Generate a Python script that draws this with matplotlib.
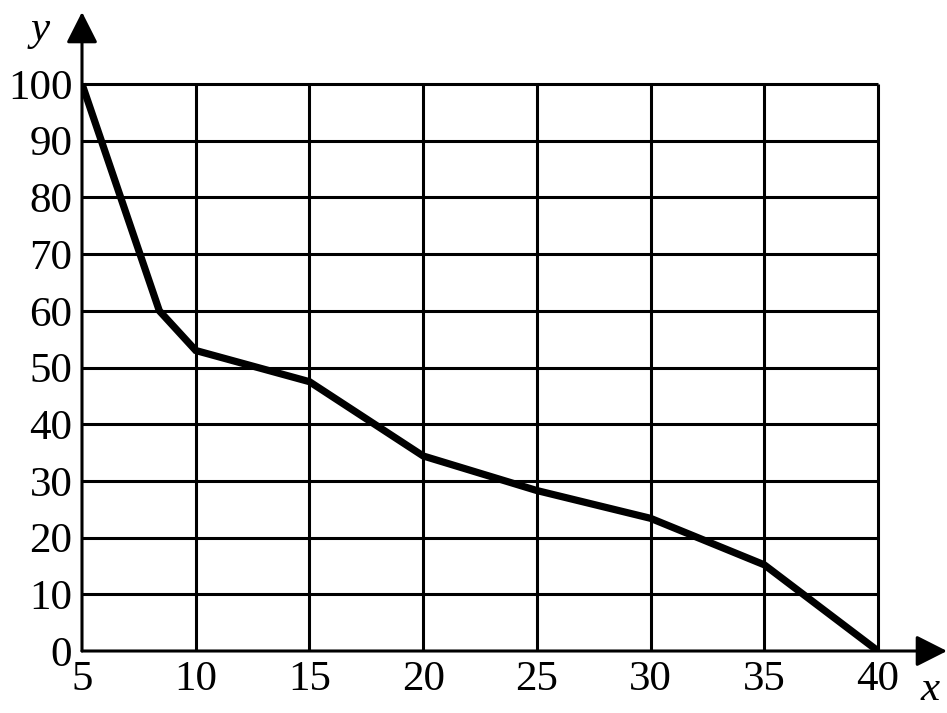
import matplotlib
matplotlib.use("Agg")
import matplotlib.pyplot as plt

x_values = [5, 8.4, 10, 15, 20, 25, 30, 35, 40]
y_values = [100, 60, 53, 47.5, 34.4, 28.3, 23.4, 15.2, 0]
x_ticks = [5, 10, 15, 20, 25, 30, 35, 40]
y_ticks = [0, 10, 20, 30, 40, 50, 60, 70, 80, 90, 100]

W, H = 947, 713
fig = plt.figure(figsize=(W / 100, H / 100), dpi=100)
px_per_x = (878 - 82) / 35.0
px_per_y = (651 - 84) / 100.0
left_px, bottom_px = 82, 651
right_px, top_px = 947, 12
ax = fig.add_axes([left_px / W, (H - bottom_px) / H,
                   (right_px - left_px) / W, (bottom_px - top_px) / H])
x_max = 5 + (right_px - left_px) / px_per_x
y_max = (bottom_px - top_px) / px_per_y
ax.set_xlim(5, x_max)
ax.set_ylim(0, y_max)
ax.set_facecolor("none")
for s in ax.spines.values():
    s.set_visible(False)

grid_lw = 2.2
ax.vlines(x_ticks[1:], 0, 100, color="black", lw=grid_lw, zorder=1)
ax.hlines(y_ticks[1:], 5, 40, color="black", lw=grid_lw, zorder=1)

# axes with arrows
ax.annotate("", xy=(5, y_max), xytext=(5, 0),
            arrowprops=dict(arrowstyle="-|>,head_length=0.95,head_width=0.48",
                            mutation_scale=20, color="black", lw=grid_lw,
                            shrinkA=0, shrinkB=0), annotation_clip=False)
ax.annotate("", xy=(x_max, 0), xytext=(5, 0),
            arrowprops=dict(arrowstyle="-|>,head_length=0.95,head_width=0.48",
                            mutation_scale=20, color="black", lw=grid_lw,
                            shrinkA=0, shrinkB=0), annotation_clip=False)

ax.plot(x_values, y_values, color="black", lw=5.2, solid_joinstyle="miter",
        solid_capstyle="butt", zorder=3)

font = "Liberation Serif"
ax.set_xticks(x_ticks)
ax.set_yticks(y_ticks)
ax.set_xticklabels([str(v) for v in x_ticks], fontfamily=font, fontsize=31)
ax.set_yticklabels([str(v) for v in y_ticks], fontfamily=font, fontsize=31)
ax.tick_params(axis="both", length=0)
ax.tick_params(axis="x", pad=7)
ax.tick_params(axis="y", pad=7)

fig.text(40 / W, 1 - 30 / H, "y", fontfamily=font, fontstyle="italic",
         fontsize=31, ha="center", va="center")
fig.text(930 / W, 1 - 690 / H, "x", fontfamily=font, fontstyle="italic",
         fontsize=31, ha="center", va="center")

fig.savefig("out.png", dpi=100, facecolor="white")
